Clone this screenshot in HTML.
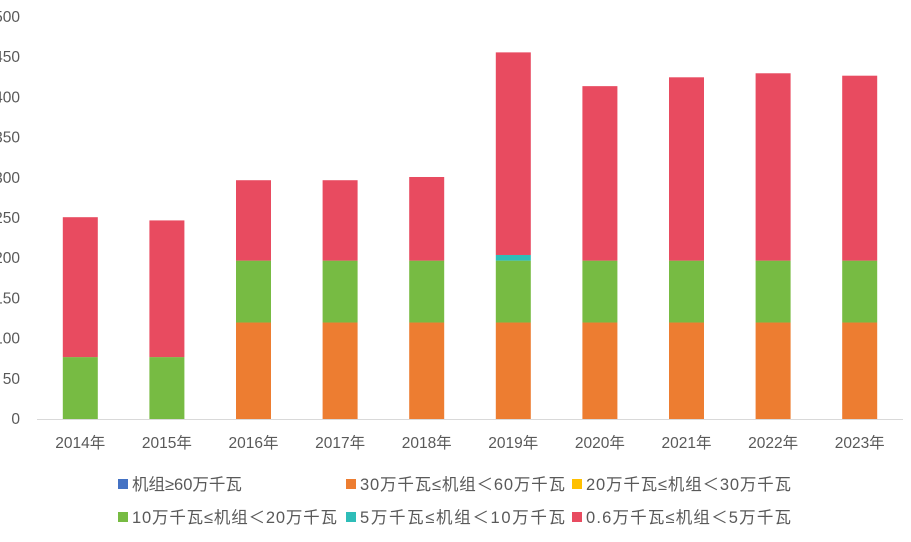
<!DOCTYPE html>
<html><head><meta charset="utf-8"><style>
body{margin:0;background:#fff;overflow:hidden;}
svg text{font-family:"Liberation Sans","Noto Sans CJK SC",sans-serif;}
</style></head><body>
<svg id="chart" width="911" height="537" xmlns="http://www.w3.org/2000/svg"></svg>
<script>
const categories=["2014年","2015年","2016年","2017年","2018年","2019年","2020年","2021年","2022年","2023年"];
const s60=[0,0,0,0,0,0,0,0,0,0];
const s30=[0,0,120,120,120,120,120,120,120,120];
const s20=[0,0,0,0,0,0,0,0,0,0];
const s10=[77,77,77,77,77,77,77,77,77,77];
const s5=[0,0,0,0,0,7,0,0,0,0];
const s06=[174,170,100,100,104,252,217,228,233,230];
const yTicks=[0,50,100,150,200,250,300,350,400,450,500];
const seriesNames=["机组≥60万千瓦","30万千瓦≤机组＜60万千瓦","20万千瓦≤机组＜30万千瓦","10万千瓦≤机组＜20万千瓦","5万千瓦≤机组＜10万千瓦","0.6万千瓦≤机组＜5万千瓦"];
const seriesData=[s60,s30,s20,s10,s5,s06];
const colors=["#4472C4","#ED7D31","#FFC000","#77BB43","#2EBDB8","#E84B60"];
const NS="http://www.w3.org/2000/svg";
const svg=document.getElementById('chart');
const x0=37,x1=903,yBase=419,yTop=17,yMax=500;
const bw=(x1-x0)/categories.length,barW=35;
const y=v=>yBase-(v/yMax)*(yBase-yTop);
const xc=i=>x0+bw*(i+0.5);
function mk(t,a){const e=document.createElementNS(NS,t);for(const k in a)e.setAttribute(k,a[k]);svg.appendChild(e);return e;}
yTicks.forEach(t=>{const e=mk('text',{x:20,y:y(t)+5,'text-anchor':'end','font-size':15.5,fill:'#595959'});e.textContent=t;

});
categories.forEach((c,i)=>{let acc=0;seriesData.forEach((s,k)=>{const v=s[i];if(v>0){const r=mk('rect',{x:xc(i)-barW/2,y:y(acc+v),width:barW,height:y(acc)-y(acc+v),fill:colors[k]});

}acc+=v;});
const t=mk('text',{x:xc(i),y:448,'text-anchor':'middle','font-size':15.5,fill:'#595959'});t.textContent=c;

});
const ax=mk('line',{x1:x0,x2:x1,y1:yBase+0.5,y2:yBase+0.5,stroke:'#D9D9D9','stroke-width':1});


const lx=[118,346,572],ly=[484,517];
seriesNames.forEach((n,k)=>{const cx=lx[k%3],cy=ly[Math.floor(k/3)];
const r=mk('rect',{x:cx,y:cy-5,width:10,height:10,fill:colors[k]});


const t=mk('text',{x:cx+14,y:cy+6,'font-size':16.5,fill:'#595959',textLength:n.length>8?(k===0?0:205):0});t.textContent=n;
if(!(n.length>8&&k!==0))t.removeAttribute('textLength');

});
</script>
</body></html>
